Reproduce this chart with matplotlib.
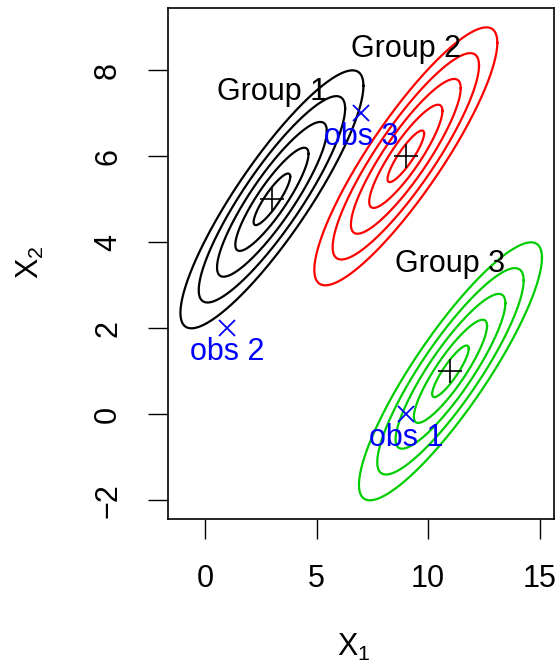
import numpy as np
import matplotlib
matplotlib.use("Agg")
from matplotlib import pyplot as plt

plt.rcParams["font.family"] = ["Liberation Sans", "DejaVu Sans"]
plt.rcParams["mathtext.fontset"] = "custom"
plt.rcParams["mathtext.rm"] = "Liberation Sans"
plt.rcParams["mathtext.it"] = "Liberation Sans"

# group means and shared covariance
groups = ["Group 1", "Group 2", "Group 3"]
means_x = [3, 9, 11]
means_y = [5, 6, 1]
group_colors = ["black", "red", "#00cd00"]
sd_x, sd_y, rho = 0.82, 0.60, 0.88
radii = [1, 2, 3, 4, 5]

# observations
obs_labels = ["obs 1", "obs 2", "obs 3"]
obs_x = [9, 1, 7]
obs_y = [0, 2, 7]

xticks = [0, 5, 10, 15]
yticks = [-2, 0, 2, 4, 6, 8]

fs = 22

fig = plt.figure(figsize=(5.59, 6.65), dpi=100)
ax = fig.add_axes([168 / 559, 1 - 519 / 665, (554 - 168) / 559, (519 - 8) / 665])

cov = np.array([[sd_x**2, rho * sd_x * sd_y], [rho * sd_x * sd_y, sd_y**2]])
L = np.linalg.cholesky(cov)
t = np.linspace(0, 2 * np.pi, 400)
circle = np.vstack([np.cos(t), np.sin(t)])

for name, mx, my, col in zip(groups, means_x, means_y, group_colors):
    for r in radii:
        pts = L @ (r * circle)
        ax.plot(mx + pts[0], my + pts[1], color=col, lw=1.6)
    ax.plot(mx, my, marker="+", color="black", ms=17, mew=1.2, ls="none")
    ax.text(mx, my + 2.5, name, fontsize=fs, ha="center", va="center")

ax.plot(obs_x, obs_y, marker="x", color="blue", ms=11, mew=1.3, ls="none")
for lab, ox, oy in zip(obs_labels, obs_x, obs_y):
    ax.text(ox, oy - 0.55, lab, fontsize=fs, color="blue", ha="center", va="center")

ax.set_xlim(-1.657, 15.64)
ax.set_ylim(-2.435, 9.45)
ax.set_xticks(xticks)
ax.set_yticks(yticks)
ax.tick_params(length=14.4, width=1, labelsize=fs, pad=18, color="black")
for lab in ax.get_yticklabels():
    lab.set_rotation(90)
    lab.set_va("center")
for s in ax.spines.values():
    s.set_linewidth(1.2)

fig.text(354 / 559, 1 - 647 / 665, r"$\mathrm{X}_1$", fontsize=fs, ha="center", va="center")
fig.text(30 / 559, 1 - 262 / 665, r"$\mathrm{X}_2$", fontsize=fs, ha="center", va="center",
         rotation=90)

fig.savefig("out.png", dpi=100)
